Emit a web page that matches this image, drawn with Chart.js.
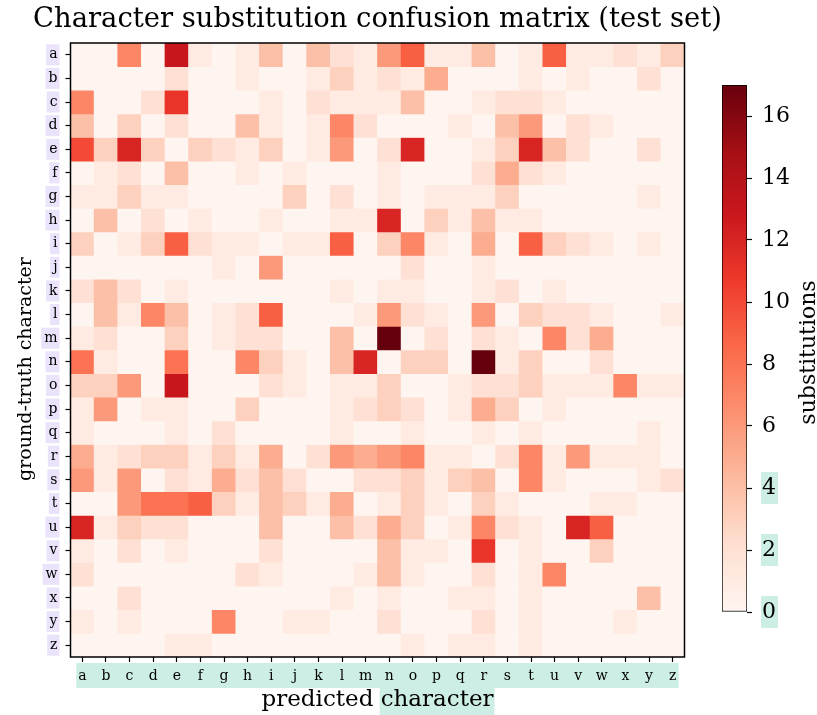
<!DOCTYPE html>
<html>
<head>
<meta charset="utf-8">
<script src="https://cdn.jsdelivr.net/npm/chart.js@4.4.0/dist/chart.umd.min.js"></script>
<style>
  html, body { margin: 0; padding: 0; background: #fff; }
  #lienzo { position: relative; width: 817px; height: 715px; }
  #matriz { position: absolute; left: 0; top: 0; }
  #barra { position: absolute; left: 700px; top: 0; }
</style>
</head>
<body>
<div id="lienzo">
  <canvas id="matriz" width="817" height="715"></canvas>
  <canvas id="barra" width="117" height="715"></canvas>
</div>
<script>
// caracteres (filas = real, columnas = predicho)
const letras = ['a','b','c','d','e','f','g','h','i','j','k','l','m','n','o','p','q','r','s','t','u','v','w','x','y','z'];

// conteos de sustituciones
const conteos = [
  [0,0,7,0,13,1,0,1,4, 0,4,2,1,6,9,1,1,4, 0,1,9,1,1,2,1,3],   // a
  [0,0,0,0,2,0,0,1,0, 0,1,3,1,2,1,5,0,0, 0,1,0,1,0,0,2,0],    // b
  [7,0,0,2,11,0,0,0,1, 0,2,1,1,1,4,0,0,1, 2,2,1,0,0,0,0,0],   // c
  [4,0,3,0,2,0,0,4,1, 0,1,7,2,0,0,0,1,0, 4,6,0,2,1,0,0,0],    // d
  [10,3,12,3,0,3,2,1,3, 0,1,6,0,2,12,0,0,1, 3,12,4,2,0,0,2,0],// e
  [0,1,2,0,4,0,0,1,0, 1,0,0,0,1,0,0,0,2, 5,2,1,0,0,0,0,0],    // f
  [1,1,3,1,1,0,0,0,0, 3,0,2,0,1,0,1,1,1, 3,0,0,0,0,0,1,0],    // g
  [0,4,0,2,0,1,0,0,1, 0,0,1,1,12,0,3,1,4, 1,1,0,0,0,0,0,0],   // h
  [3,0,1,3,9,2,1,1,0, 1,1,9,0,3,7,1,0,5, 0,9,3,2,1,0,1,0],    // i
  [0,0,0,0,0,0,1,0,6, 0,0,0,0,0,2,0,0,1, 0,0,0,0,0,0,0,0],    // j
  [2,4,2,0,1,0,0,0,0, 0,0,1,0,1,1,0,0,1, 2,0,1,0,0,0,0,0],    // k
  [0,4,1,7,4,0,1,2,9, 0,0,0,1,6,2,1,0,6, 0,3,2,2,1,0,0,1],    // l
  [1,2,0,0,3,0,1,2,2, 0,0,4,0,17,0,2,0,2, 1,0,7,2,5,0,0,0],   // m
  [8,1,0,0,8,0,0,7,3, 1,0,4,12,0,3,3,0,17, 1,3,0,0,2,0,0,0],  // n
  [3,3,6,0,13,0,0,0,2, 1,0,1,1,3,0,0,1,2, 2,3,1,1,1,7,1,1],   // o
  [1,6,0,1,1,0,0,3,0, 0,0,1,2,3,2,0,1,5, 3,0,1,0,0,0,0,0],    // p
  [1,0,0,0,1,0,2,0,0, 0,0,1,0,0,1,0,0,1, 0,1,0,0,0,0,1,0],    // q
  [5,1,2,3,3,1,3,1,5, 0,2,6,5,6,7,1,1,0, 2,7,1,6,1,1,1,0],    // r
  [6,1,6,0,2,1,5,2,4, 2,0,0,2,2,3,1,3,4, 0,7,1,0,0,0,1,2],    // s
  [0,0,6,8,8,9,3,1,4, 3,1,5,0,1,3,1,0,3, 1,0,0,0,1,1,0,0],    // t
  [12,1,3,2,2,0,0,0,4, 0,0,4,2,5,3,0,1,7, 2,1,0,12,9,0,0,0],  // u
  [1,0,2,0,1,0,0,0,2, 0,0,0,0,4,1,1,0,11, 0,1,0,0,3,0,0,0],   // v
  [2,0,0,0,0,0,0,2,1, 0,0,0,1,4,1,0,0,2, 0,1,7,0,0,0,0,0],    // w
  [0,0,2,0,0,0,0,0,0, 0,0,1,0,1,0,0,1,1, 0,1,0,0,0,0,4,0],    // x
  [1,0,1,0,0,0,7,0,0, 1,1,0,0,2,0,0,0,2, 0,1,0,0,0,1,0,0],    // y
  [0,0,0,0,1,1,0,0,0, 0,0,0,0,0,1,0,1,1, 0,1,0,0,0,0,0,0]     // z
];

const ticksBarra = [0,2,4,6,8,10,12,14,16];
const ticksResaltados = [0,2,4];
const maxConteo = 17;

const serif = "'DejaVu Serif', serif";
const paleta = ['#fff5f0','#fee0d2','#fcbba1','#fc9272','#fb6a4a','#ef3b2c','#cb181d','#a50f15','#67000d'];
const lila = '#ebe3fb';
const menta = '#cdeee4';
const titulo = 'Character substitution confusion matrix (test set)';
const tituloY = 'ground-truth character';
const tituloX = 'predicted character';

let hexARgb = (h) => [1, 3, 5].map(i => parseInt(h.slice(i, i + 2), 16));

// mapa de color "Reds"
let colorRojo = (v) => {
  let t = Math.min(Math.max(v / maxConteo, 0), 1) * (paleta.length - 1);
  let i = Math.min(Math.floor(t), paleta.length - 2);
  let f = t - i;
  let a = hexARgb(paleta[i]);
  let b = hexARgb(paleta[i + 1]);
  let c = a.map((x, k) => Math.round(x + (b[k] - x) * f));
  return `rgb(${c[0]}, ${c[1]}, ${c[2]})`;
};

Chart.defaults.font.family = serif;
Chart.defaults.color = '#000';

// resaltados detras de las etiquetas, titulos y marco del grafico
let marcoPlugin = {
  id: 'marco',
  beforeDraw: (chart) => {
    let ctx = chart.ctx;
    let ejeX = chart.scales.x;
    let ejeY = chart.scales.y;
    ctx.save();
    ctx.font = `14px ${serif}`;
    ctx.fillStyle = lila;
    letras.forEach((l, i) => {
      let py = ejeY.getPixelForValue(i);
      let derecha = ejeY.right - 5 - 8;
      let w = ctx.measureText(l).width;
      ctx.fillRect(derecha - w - 3, py - 10.5, w + 5, 21);
    });
    ctx.fillStyle = menta;
    let x0 = ejeX.getPixelForValue(0) - 6;
    let x1 = ejeX.getPixelForValue(letras.length - 1) + 6;
    ctx.fillRect(x0, ejeX.top + 6, x1 - x0, 25);

    ctx.font = `23px ${serif}`;
    let cx = (chart.chartArea.left + chart.chartArea.right) / 2;
    let total = ctx.measureText(tituloX).width;
    let antes = ctx.measureText('predicted ').width;
    let palabra = ctx.measureText('character').width;
    ctx.fillRect(cx - total / 2 + antes - 1, ejeX.bottom - 27, palabra + 2, 27);
    ctx.restore();
  },
  afterDraw: (chart) => {
    let ctx = chart.ctx;
    let cx = (chart.chartArea.left + chart.chartArea.right) / 2;
    ctx.save();
    ctx.fillStyle = '#000';
    ctx.textAlign = 'center';
    ctx.textBaseline = 'middle';
    ctx.font = `27.4px ${serif}`;
    ctx.fillText(titulo, cx, 20);
    ctx.translate(26, 369);
    ctx.rotate(-Math.PI / 2);
    ctx.font = `19px ${serif}`;
    ctx.fillText(tituloY, 0, 0);
    ctx.restore();
  },
  afterDatasetsDraw: (chart) => {
    let {left, top, right, bottom} = chart.chartArea;
    let ctx = chart.ctx;
    ctx.save();
    ctx.strokeStyle = '#000';
    ctx.lineWidth = 1.5;
    ctx.strokeRect(left, top, right - left, bottom - top);
    ctx.restore();
  }
};

let datasets = conteos.map((fila, r) => ({
  label: letras[r],
  data: fila.map(() => [r - 0.5, r + 0.5]),
  backgroundColor: fila.map(colorRojo),
  borderWidth: 0,
  barPercentage: 1,
  categoryPercentage: 1,
  grouped: false
}));

let cuadricula = { drawOnChartArea: false, offset: false, tickLength: 5, tickColor: '#000', tickWidth: 1.2 };

new Chart(document.getElementById('matriz'), {
  type: 'bar',
  data: { labels: letras, datasets: datasets },
  options: {
    responsive: false,
    animation: false,
    events: [],
    layout: { padding: { left: 0, top: 43, right: 132.5, bottom: 0 } },
    plugins: {
      legend: { display: false },
      tooltip: { enabled: false },
      title: { display: false }
    },
    scales: {
      x: {
        type: 'category',
        offset: true,
        grid: cuadricula,
        border: { display: false },
        ticks: { font: { size: 14 }, color: '#000', padding: 6, maxRotation: 0, autoSkip: false },
        title: { display: true, text: tituloX, color: '#000', font: { size: 23 }, padding: { top: 0, bottom: 1 } },
        afterFit: (s) => { s.height = 58; }
      },
      y: {
        type: 'linear',
        min: -0.5,
        max: 25.5,
        reverse: true,
        afterBuildTicks: (s) => { s.ticks = letras.map((l, i) => ({ value: i })); },
        grid: cuadricula,
        border: { display: false },
        ticks: { callback: (v) => letras[v], font: { size: 14 }, color: '#000', padding: 8, autoSkip: false },
        title: { display: false },
        afterFit: (s) => { s.width = 70.5; }
      }
    }
  },
  plugins: [marcoPlugin]
});

// barra de color
let barraPlugin = {
  id: 'barraColor',
  beforeDraw: (chart) => {
    let ctx = chart.ctx;
    let eje = chart.scales.y;
    ctx.save();
    ctx.font = `22px ${serif}`;
    ctx.fillStyle = menta;
    ticksResaltados.forEach(v => {
      let py = eje.getPixelForValue(v);
      let w = ctx.measureText(String(v)).width;
      ctx.fillRect(eje.left + 5 + 10 - 1, py - 16, w + 3, 32);
    });
    ctx.restore();
  },
  afterDraw: (chart) => {
    let ctx = chart.ctx;
    let {top, bottom} = chart.chartArea;
    ctx.save();
    ctx.translate(109, (top + bottom) / 2 + 4);
    ctx.rotate(-Math.PI / 2);
    ctx.font = `22px ${serif}`;
    ctx.fillStyle = '#000';
    ctx.textAlign = 'center';
    ctx.textBaseline = 'middle';
    ctx.fillText('substitutions', 0, 0);
    ctx.restore();
  }
};

let gradienteBarra = (c) => {
  let area = c.chart.chartArea;
  if (!area) return paleta[0];
  let g = c.chart.ctx.createLinearGradient(0, area.bottom, 0, area.top);
  paleta.forEach((col, i) => g.addColorStop(i / (paleta.length - 1), col));
  return g;
};

new Chart(document.getElementById('barra'), {
  type: 'bar',
  data: {
    labels: [''],
    datasets: [{
      data: [[0, maxConteo]],
      backgroundColor: gradienteBarra,
      borderColor: '#000',
      borderWidth: 1,
      borderSkipped: false,
      barPercentage: 1,
      categoryPercentage: 1
    }]
  },
  options: {
    responsive: false,
    animation: false,
    events: [],
    layout: { padding: { left: 22, top: 85, bottom: 103, right: 0 } },
    plugins: { legend: { display: false }, tooltip: { enabled: false } },
    scales: {
      x: { display: false },
      y: {
        position: 'right',
        min: 0,
        max: maxConteo,
        afterBuildTicks: (s) => { s.ticks = ticksBarra.map(v => ({ value: v })); },
        grid: { drawOnChartArea: false, tickLength: 5, tickColor: '#000', tickWidth: 1.2 },
        border: { display: false },
        ticks: { font: { size: 22 }, color: '#000', padding: 10, autoSkip: false },
        afterFit: (s) => { s.width = 70; }
      }
    }
  },
  plugins: [barraPlugin]
});
</script>
</body>
</html>
